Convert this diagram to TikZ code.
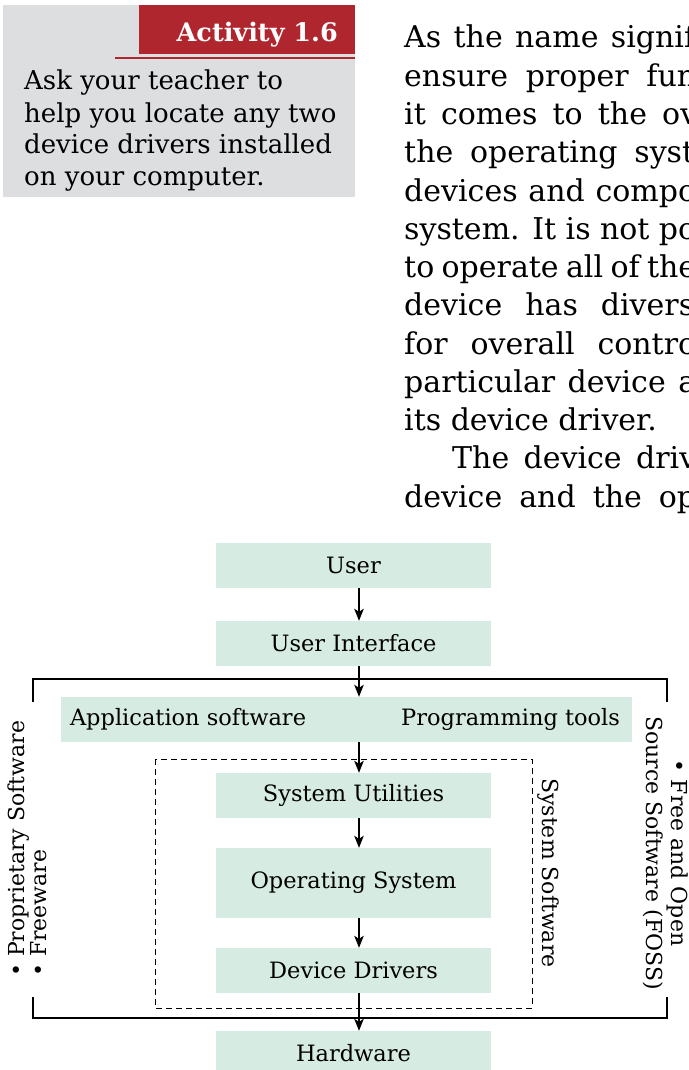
\documentclass[tikz,border=0pt]{standalone}
\usepackage{fontspec}
\setmainfont{DejaVu Serif}
\usetikzlibrary{positioning,arrows.meta}

\definecolor{boxmint}{RGB}{214,235,226}
\definecolor{actgray}{RGB}{221,222,224}
\definecolor{actred}{RGB}{176,38,47}

\tikzset{
  blk/.style={fill=boxmint, minimum width=275, minimum height=45, inner sep=0pt, font=\fontsize{22.5}{26}\selectfont},
  blktxt/.style={inner sep=0pt, font=\fontsize{22.5}{26}\selectfont},
  flow/.style={-{Stealth[length=12pt,width=9.5pt,inset=3pt]}, line width=1.3pt},
  para/.style={anchor=base west, inner sep=0pt, font=\fontsize{30}{38}\selectfont},
  acttxt/.style={anchor=base west, inner sep=0pt, font=\fontsize{26}{31}\selectfont},
  sidetxt/.style={inner sep=0pt, font=\fontsize{22}{22}\selectfont},
  sidetxtr/.style={inner sep=0pt, font=\fontsize{22}{25}\selectfont}
}

\begin{document}
\begin{tikzpicture}[x=1pt,y=-1pt]
    \useasboundingbox (0,0) rectangle (688,1070);
    \clip (0,0) rectangle (688,1070);

    % activity box
    \fill [actgray] (3,5) rectangle (355,197);
    \fill [actred] (139,5) rectangle (355,54);
    \draw [actred, line width=1.5pt] (115,58) -- (355,58);
    \node [anchor=base east, inner sep=0pt, text=white, font=\fontsize{25.5}{28}\selectfont\bfseries] (acthead) at (338,42) {Activity 1.6};
    \node [acttxt] (act1) at (24,90) {Ask your teacher to};
    \node [acttxt] (act2) at (24,122) {help you locate any two};
    \node [acttxt] (act3) at (24,153.5) {device drivers installed};
    \node [acttxt] (act4) at (24,185) {on your computer.};

    % text column
    \node [para] (p1) at (404,48) {\makebox[291pt][s]{As the name signif}};
    \node [para] (p2) at (404,86.25) {\makebox[292pt][s]{ensure proper fun}};
    \node [para] (p3) at (404,124.5) {\makebox[293pt][s]{it comes to the ov}};
    \node [para] (p4) at (404,162.75) {\makebox[290pt][s]{the operating syst}};
    \node [para] (p5) at (404,201) {\makebox[292pt][s]{devices and compo}};
    \node [para] (p6) at (404,239.25) {\makebox[292pt][s]{system. It is not po}};
    \node [para] (p7) at (404,277.5) {\makebox[292pt][s]{to operate all of the}};
    \node [para] (p8) at (404,315.75) {\makebox[290pt][s]{device has divers}};
    \node [para] (p9) at (404,354) {\makebox[292pt][s]{for overall contro}};
    \node [para] (p10) at (404,392.25) {\makebox[292pt][s]{particular device a}};
    \node [para] (p11) at (404,430.5) {its device driver.};
    \node [para] (p12) at (452,468.75) {\makebox[244pt][s]{The device driv}};
    \node [para] (p13) at (404,507) {\makebox[292pt][s]{device and the op}};

    % layers
    \node [blk] (user) at (353.5,565.5) {User};
    \node [blk] (ui) at (353.5,643.5) {User Interface};
    \node [blk, minimum width=571] (app) at (346.5,719.5) {};
    \node [blktxt, anchor=west] (appsw) at ([xshift=9pt]app.west) {Application software};
    \node [blktxt, anchor=east] (progt) at ([xshift=-12pt]app.east) {Programming tools};
    \node [blk] (sysutil) at (353.5,795.5) {System Utilities};
    \node [blk, minimum height=70] (os) at (353.5,883) {Operating System};
    \node [blk] (devdrv) at (353.5,970.5) {Device Drivers};
    \node [blk] (hw) at (353.5,1053.5) {Hardware};

    % brackets
    \draw [line width=1.3pt] (33,702) -- (33,679) -- (667,679) -- (667,702);
    \draw [line width=1.3pt] (33,997) -- (33,1018) -- (667,1018) -- (667,997);
    \draw [dash pattern=on 6pt off 4pt, line width=1pt] (155,759) rectangle (532,1008);

    % arrows
    \coordinate (axis) at (359,0);
    \draw [flow] (user.south -| axis) -- (ui.north -| axis);
    \draw [flow] (ui.south -| axis) -- (app.north -| axis);
    \draw [flow] (app.south -| axis) -- (sysutil.north -| axis);
    \draw [flow] (sysutil.south -| axis) -- (os.north -| axis);
    \draw [flow] (os.south -| axis) -- (devdrv.north -| axis);
    \draw [flow] (devdrv.south -| axis) -- (hw.north -| axis);

    % side labels
    \node [sidetxt, rotate=90, anchor=north west, align=left] (propr) at (8,977) {• Proprietary Software\\• Freeware};
    \node [sidetxtr, rotate=-90, align=center] (foss) at (666,853) {• Free and Open\\Source Software (FOSS)};
    \node [sidetxtr, rotate=-90] (syssw) at (548,873) {System Software};
\end{tikzpicture}
\end{document}
